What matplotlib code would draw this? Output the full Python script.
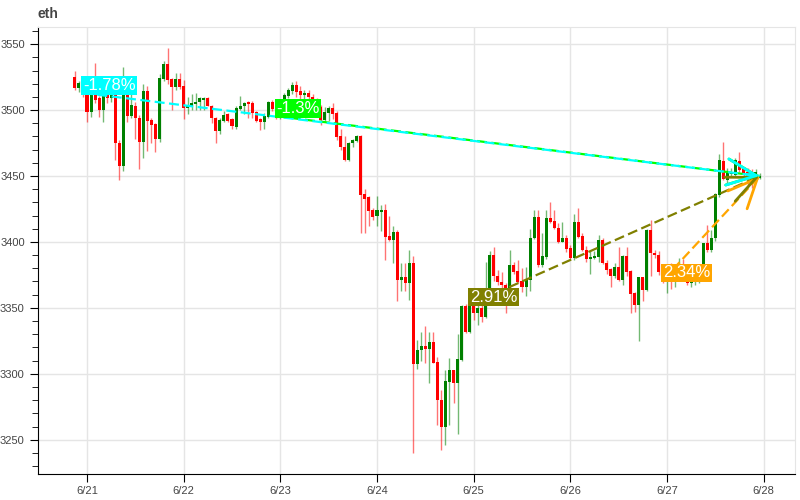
import numpy as np
import pandas as pd
import matplotlib
matplotlib.use("Agg")
import matplotlib.pyplot as plt
import matplotlib.dates as mdates
from matplotlib.ticker import MultipleLocator, FuncFormatter

plt.rcParams['font.family'] = ['Liberation Sans', 'DejaVu Sans']

# hourly eth candles, 6/20 21:00 .. 6/27 23:00
opens = [3525, 3517, 3519, 3513, 3499, 3512, 3509, 3500, 3511, 3509,
         3512, 3475, 3458, 3512, 3496, 3503, 3494, 3476, 3514, 3492,
         3489, 3478, 3524, 3535, 3523, 3518, 3523, 3518, 3502, 3503,
         3505, 3506, 3508, 3509, 3503, 3494, 3484, 3492, 3497, 3493,
         3487, 3501, 3503, 3506, 3505, 3498, 3493, 3491, 3495, 3506,
         3501, 3495, 3502, 3511, 3515, 3519, 3514, 3512, 3513, 3510,
         3507, 3502.5, 3492.4, 3498, 3501, 3497.5, 3480, 3472, 3462, 3475,
         3477, 3480, 3436, 3434, 3424, 3420, 3423, 3424, 3404, 3402,
         3407, 3371, 3373, 3369, 3384, 3308, 3318, 3321, 3319, 3324,
         3308.5, 3280, 3259.5, 3294, 3303, 3293, 3311, 3351.5, 3332, 3352.4,
         3346, 3350, 3343.5, 3365, 3390, 3374, 3369.5, 3367.4, 3360, 3382.6,
         3377.5, 3370, 3366, 3371, 3403, 3419, 3382.6, 3389, 3418, 3415.4,
         3410.4, 3400.3, 3403, 3395, 3388, 3415, 3404, 3394, 3387, 3388,
         3389, 3401.5, 3384, 3379, 3374, 3381, 3371, 3389, 3377.5, 3361,
         3352, 3373, 3364, 3409, 3391.5, 3390, 3377.5, 3371, 3378, 3374,
         3377, 3382, 3374, 3369, 3371, 3372, 3372, 3399, 3394, 3403,
         3436, 3461, 3447, 3452, 3451, 3461, 3455, 3453, 3451, 3447,
         3449]
highs = [3530, 3522, 3521, 3516, 3516, 3536, 3511, 3513, 3515, 3513,
         3514, 3477, 3533, 3514, 3512, 3506, 3496, 3520, 3518, 3494,
         3490, 3527, 3537, 3547, 3524, 3528, 3528, 3523, 3510, 3512,
         3513, 3510, 3510, 3510, 3504, 3495, 3494, 3499, 3498, 3494,
         3503, 3511, 3506, 3507, 3507, 3499, 3494, 3498, 3507, 3508,
         3503, 3504, 3513, 3517, 3521, 3522, 3518, 3515, 3515, 3512,
         3509, 3504, 3502, 3503, 3505, 3499, 3486, 3480, 3476, 3478,
         3481, 3481, 3440, 3435, 3426, 3435, 3428, 3429, 3420, 3412,
         3409, 3384, 3384, 3394, 3389, 3326, 3332, 3336, 3332, 3332,
         3313, 3288, 3303, 3312, 3303, 3330, 3352, 3353, 3353, 3355,
         3355, 3352, 3385, 3393, 3396, 3379, 3377, 3369, 3394, 3385,
         3386, 3380, 3381, 3410, 3424, 3424, 3407, 3424, 3430.6, 3424,
         3414, 3415, 3405, 3398, 3421, 3426, 3407, 3397, 3393, 3393,
         3405, 3403, 3386, 3380, 3384, 3396, 3390, 3396, 3379, 3362,
         3373, 3373, 3410, 3417, 3394, 3393, 3380, 3381, 3384, 3380,
         3388, 3387, 3375, 3373, 3374, 3376, 3399, 3413, 3409, 3437,
         3467, 3476, 3456, 3456, 3464, 3468, 3457, 3456, 3455, 3455,
         3452]
lows = [3515, 3514, 3510, 3491, 3495, 3505, 3495, 3491, 3505, 3506,
        3462, 3447, 3454, 3491, 3494, 3478, 3455, 3464, 3469, 3475,
        3468, 3476, 3522, 3520, 3500, 3515, 3516, 3493, 3497, 3500,
        3500, 3500, 3500, 3503, 3490, 3475, 3482, 3491, 3491, 3486,
        3486, 3500, 3497, 3494, 3494, 3491, 3485, 3486, 3494, 3499,
        3493, 3493, 3500, 3509, 3512, 3510, 3506, 3503, 3503, 3500,
        3497, 3489, 3491, 3492, 3493, 3477, 3470, 3461, 3461, 3472,
        3476, 3407, 3407, 3412, 3417, 3412, 3408, 3386, 3401, 3384,
        3355, 3363, 3363, 3356, 3240, 3304, 3310, 3308, 3293, 3308,
        3261, 3242, 3246, 3261, 3278, 3254, 3310, 3331, 3331, 3341,
        3337, 3339, 3342, 3362, 3370, 3367, 3365, 3346, 3360, 3376,
        3369, 3362, 3359, 3363, 3402, 3381, 3381, 3387, 3414, 3410,
        3399, 3400, 3392, 3387, 3386, 3403, 3393, 3385, 3376, 3387,
        3385, 3383, 3376, 3366, 3373, 3370, 3367, 3374, 3346, 3347,
        3325, 3355, 3363, 3374, 3388, 3375, 3369, 3361, 3364, 3366,
        3373, 3372, 3367, 3366, 3367, 3369, 3371, 3392, 3392, 3401,
        3434, 3447, 3443, 3450, 3450, 3453, 3448, 3442, 3441, 3446,
        3448]
closes = [3517, 3520, 3513, 3499, 3512, 3508, 3500, 3511, 3509, 3511,
          3475, 3458, 3512, 3496, 3504, 3494, 3476, 3514, 3492, 3489,
          3478, 3524, 3535, 3523, 3518, 3523, 3518, 3502, 3503, 3505,
          3506, 3509, 3509, 3503, 3494, 3484, 3492, 3496, 3492, 3488,
          3501, 3503, 3505, 3505, 3498, 3492, 3491, 3495, 3506, 3501,
          3495.4, 3502, 3511, 3515, 3519, 3514, 3512, 3513, 3510, 3507,
          3502.5, 3492.4, 3498, 3501, 3497.5, 3480, 3472, 3462, 3475, 3477,
          3480, 3436, 3433, 3424, 3419, 3424, 3424, 3404, 3402, 3407,
          3371, 3373, 3369, 3384, 3308, 3318, 3321, 3319, 3324, 3308.5,
          3280, 3259.5, 3294, 3303, 3293, 3311, 3351.5, 3332, 3352.4, 3346,
          3350, 3343.5, 3365, 3390, 3374, 3369.5, 3367.4, 3360, 3382.6, 3377.5,
          3370, 3366, 3371, 3403, 3419, 3382.6, 3389, 3418, 3415.4, 3410.4,
          3400.3, 3403, 3395, 3388, 3415, 3404, 3394, 3387, 3388, 3389,
          3401.5, 3384, 3379, 3374, 3381, 3371, 3389, 3377.5, 3361, 3352,
          3373, 3364, 3409, 3391.5, 3390, 3377.5, 3371, 3378, 3374, 3377,
          3382, 3374, 3369, 3371, 3372, 3373, 3399, 3394, 3403, 3436,
          3462, 3448, 3453, 3453, 3462, 3454.5, 3452, 3449.5, 3447, 3453,
          3450]

times = pd.date_range("2024-06-20 21:00", periods=len(closes), freq="h")

# change arrows: start candle index -> last candle
arrow_starts = [2, 50, 98, 146]
arrow_labels = ["-1.78%", "-1.3%", "2.91%", "2.34%"]
arrow_colors = ["#00ffff", "#00ff00", "#808000", "#ffa500"]

x = mdates.date2num(times)
o = np.array(opens)
h = np.array(highs)
l = np.array(lows)
c = np.array(closes)
up = c >= o

fig = plt.figure(figsize=(8, 5), dpi=100)
ax = fig.add_axes([0.0475, 0.052, 0.9465, 0.894])

w = 0.75 / 24
cols = np.where(up, "#008000", "#ff0000")
ax.vlines(x, l, h, colors=cols, linewidth=1, alpha=0.55, zorder=2)
ax.bar(x, np.abs(c - o) + 0.4, bottom=np.minimum(o, c) - 0.2, width=w,
       color=cols, linewidth=0, zorder=3)

end = len(closes) - 1
# lines and heads drawn last-to-first so the cyan one sits on top
for s, col in reversed(list(zip(arrow_starts, arrow_colors))):
    ax.plot([x[s], x[end]], [c[s], c[end]], color=col, linewidth=1.6,
            linestyle=(0, (4.5, 2)), zorder=4)
    bx = x[end] - (x[end] - x[s]) * 0.02
    by = c[end] - (c[end] - c[s]) * 0.02
    ax.annotate("", xy=(x[end], c[end]), xytext=(bx, by),
                arrowprops=dict(arrowstyle="->,head_length=1.0,head_width=0.45",
                                color=col, lw=2, mutation_scale=21,
                                shrinkA=0, shrinkB=0), zorder=5)

for s, lab, col in zip(arrow_starts, arrow_labels, arrow_colors):
    ax.text(x[s], c[s], lab, color="white", fontsize=12, ha="left", va="bottom",
            bbox=dict(facecolor=col, edgecolor="none", pad=1.2), zorder=7)

ax.set_xlim(mdates.date2num(pd.Timestamp("2024-06-20 11:50")),
            mdates.date2num(pd.Timestamp("2024-06-28 07:50")))
ax.set_ylim(3224, 3563)

ax.xaxis.set_major_locator(mdates.DayLocator())
ax.xaxis.set_major_formatter(FuncFormatter(
    lambda v, p: f"{mdates.num2date(v).month}/{mdates.num2date(v).day}"))
ax.yaxis.set_major_locator(MultipleLocator(50))
ax.yaxis.set_minor_locator(MultipleLocator(10))

ax.grid(True, color="#e5e5e5", linewidth=1)
ax.set_axisbelow(True)
for side in ["top", "right"]:
    ax.spines[side].set_color("#e5e5e5")
for side in ["left", "bottom"]:
    ax.spines[side].set_color("black")
ax.tick_params(axis="both", which="major", labelsize=8, labelcolor="#444444",
               length=6, direction="out")
ax.tick_params(axis="y", which="minor", length=4, direction="out")
ax.tick_params(axis="x", pad=3)

fig.text(0.0475, 0.958, "eth", fontsize=10, fontweight="bold", color="#444444",
         ha="left", va="bottom")

fig.savefig("out.png", dpi=100)
